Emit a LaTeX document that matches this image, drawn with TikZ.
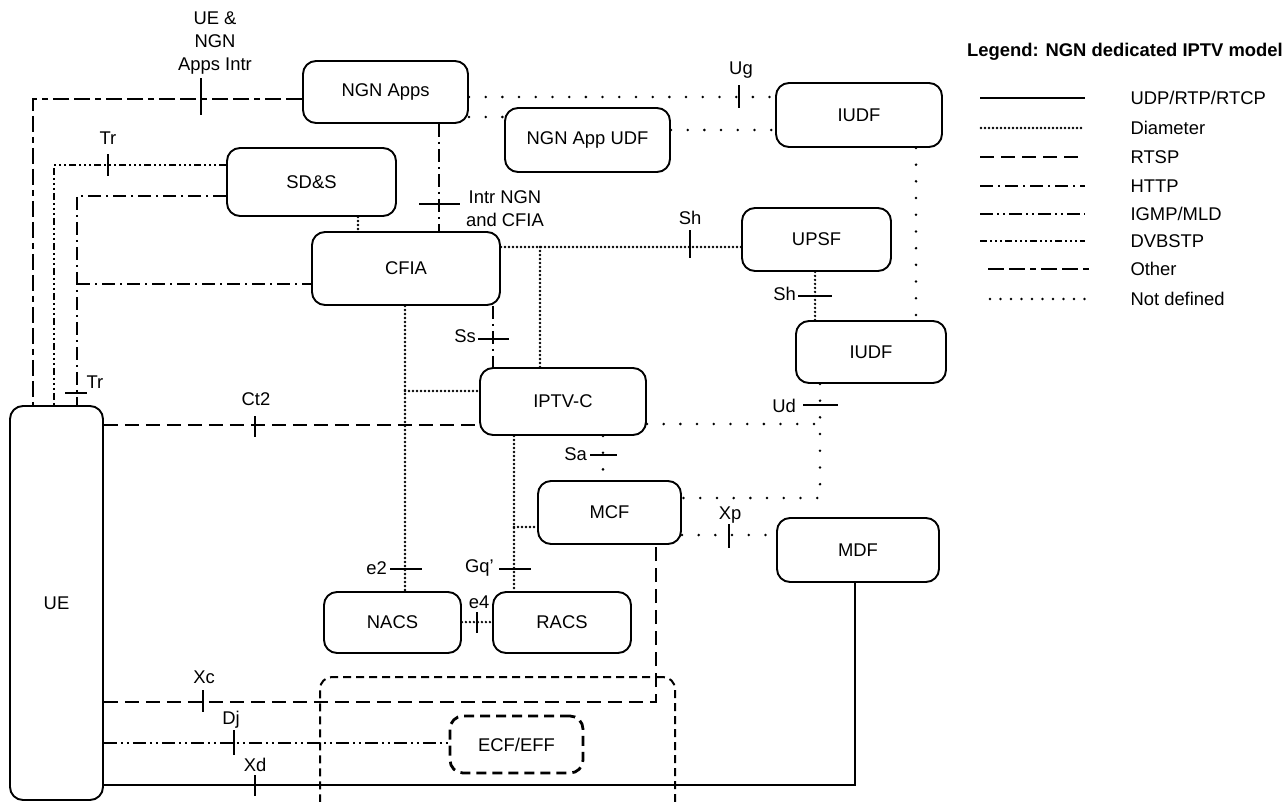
\documentclass[tikz,border=0pt]{standalone}
\usepackage{fontspec}
\setmainfont{Liberation Sans}
\tikzset{
  blk/.style={draw, rounded corners=13pt, line width=1.9pt, align=center},
  udp/.style={line width=1.9pt},
  diam/.style={line width=2.6pt, line cap=round, dash pattern=on 0pt off 4pt},
  rtsp/.style={line width=2.8pt, dash pattern=on 14pt off 7pt},
  http/.style={line width=2.8pt, dash pattern=on 13pt off 5pt on 2pt off 5pt},
  igmp/.style={line width=2.8pt, dash pattern=on 13pt off 4pt on 2pt off 4pt on 2pt off 4pt},
  dvb/.style={line width=2.8pt, dash pattern=on 7pt off 3pt on 2pt off 3pt on 2pt off 3pt on 2pt off 3pt},
  other/.style={line width=2.8pt, dash pattern=on 16pt off 5pt on 16pt off 5pt on 6pt off 5pt},
  undef/.style={line width=2.8pt, line cap=round, dash pattern=on 0pt off 16.7pt},
  tick/.style={line width=1.9pt}
}
\begin{document}
\begin{tikzpicture}[x=1pt, y=-1pt, font=\fontsize{18.4}{23}\selectfont]
  \useasboundingbox (0,0) rectangle (1285,801);
  % functional blocks
  \node [blk, minimum width=165, minimum height=62] (ngnapps) at (385.5,92) {NGN Apps};
  \node [blk, minimum width=169, minimum height=68] (sds) at (311.5,182) {SD\&S};
  \node [blk, minimum width=188, minimum height=73] (cfia) at (406,268.5) {CFIA};
  \node [blk, minimum width=165, minimum height=64] (appudf) at (587.5,140) {NGN App UDF};
  \node [blk, minimum width=166, minimum height=64] (iudfa) at (859,115) {IUDF};
  \node [blk, minimum width=149, minimum height=63] (upsf) at (816.5,239.5) {UPSF};
  \node [blk, minimum width=150, minimum height=62] (iudfb) at (871,352) {IUDF};
  \node [blk, minimum width=166, minimum height=67] (iptvc) at (563,401.5) {IPTV-C};
  \node [blk, minimum width=143, minimum height=63] (mcf) at (609.5,512.5) {MCF};
  \node [blk, minimum width=162, minimum height=64] (mdf) at (858,550) {MDF};
  \node [blk, minimum width=137, minimum height=61] (nacs) at (392.5,622.5) {NACS};
  \node [blk, minimum width=138, minimum height=61] (racs) at (562,622.5) {RACS};
  \node [blk, minimum width=93, minimum height=394] (ue) at (56.5,603) {UE};
  \node [draw, rounded corners=12pt, line width=2pt, dash pattern=on 8pt off 5pt,
         minimum width=355, minimum height=170] (ext) at (497.5,762) {};
  \node [blk, line width=2.8pt, dash pattern=on 10pt off 6pt, minimum width=133, minimum height=57] (ecf) at (516.5,744.5) {ECF/EFF};
  % interfaces towards UE
  \draw [other] (ngnapps.west |- 0,99) -- (33,99) -- (33,0 |- ue.north);
  \draw [dvb] (sds.west |- 0,165) -- (54,165) -- (54,0 |- ue.north);
  \draw [http] (sds.west |- 0,196) -- (77,196) -- (77,0 |- ue.north);
  \draw [http] (77,284) -- (cfia.west |- 0,284);
  \draw [rtsp] (ue.east |- 0,425) -- (iptvc.west |- 0,425);
  \draw [rtsp] (ue.east |- 0,702) -- (656,702) -- (656,0 |- mcf.south);
  \draw [igmp] (ue.east |- 0,743) -- (ecf.west |- 0,743);
  \draw [udp] (ue.east |- 0,785) -- (855,785) -- (855,0 |- mdf.south);
  % network side
  \draw [http] (439,0 |- ngnapps.south) -- (439,0 |- cfia.north);
  \draw [diam] (358,0 |- sds.south) -- (358,0 |- cfia.north);
  \draw [undef] (ngnapps.east |- 0,97) -- (iudfa.west |- 0,97);
  \draw [undef] (ngnapps.east |- 0,117) -- (appudf.west |- 0,117);
  \draw [undef] (appudf.east |- 0,130) -- (iudfa.west |- 0,130);
  \draw [undef] (916,0 |- iudfa.south) -- (916,0 |- iudfb.north);
  \draw [diam] (cfia.east |- 0,247) -- (upsf.west |- 0,247);
  \draw [diam] (540,247) -- (540,0 |- iptvc.north);
  \draw [diam] (815,0 |- upsf.south) -- (815,0 |- iudfb.north);
  \draw [http] (493,0 |- cfia.south) -- (493,0 |- iptvc.north);
  \draw [diam] (405,0 |- cfia.south) -- (405,0 |- nacs.north);
  \draw [diam] (405,391) -- (iptvc.west |- 0,391);
  \draw [undef] (iptvc.east |- 0,424) -- (820,424);
  \draw [undef] (820,0 |- iudfb.south) -- (820,498) -- (mcf.east |- 0,498);
  \draw [undef] (603,0 |- iptvc.south) -- (603,0 |- mcf.north);
  \draw [diam] (514,0 |- iptvc.south) -- (514,0 |- racs.north);
  \draw [diam] (514,527) -- (mcf.west |- 0,527);
  \draw [undef] (mcf.east |- 0,535) -- (mdf.west |- 0,535);
  \draw [diam] (nacs.east |- 0,622) -- (racs.west |- 0,622);
  % reference points
  \draw [tick] (201,78) -- (201,115);
  \draw [tick] (108,154) -- (108,176);
  \draw [tick] (65,393) -- (87,393);
  \draw [tick] (419,204) -- (460,204);
  \draw [tick] (739,85) -- (739,108);
  \draw [tick] (690,230) -- (690,258);
  \draw [tick] (798,296) -- (832,296);
  \draw [tick] (478,339) -- (509,339);
  \draw [tick] (803,405) -- (838,405);
  \draw [tick] (255,416) -- (255,437);
  \draw [tick] (590,455) -- (617,455);
  \draw [tick] (729,524) -- (729,548);
  \draw [tick] (390,569) -- (422,569);
  \draw [tick] (499,569) -- (531,569);
  \draw [tick] (477,612) -- (477,633);
  \draw [tick] (203,690) -- (203,712);
  \draw [tick] (234,730) -- (234,755);
  \draw [tick] (255,775) -- (255,796);
  \node [align=center] (lintr) at (215,43) {UE \&\\NGN\\Apps Intr};
  \node (ltra) at (108,138) {Tr};
  \node (ltrb) at (95,382) {Tr};
  \node (lct) at (256,399) {Ct2};
  \node [align=center] (lcfia) at (505,209) {Intr NGN\\and CFIA};
  \node (lug) at (741,70) {Ug};
  \node (lsha) at (690,218) {Sh};
  \node [anchor=east, inner sep=1pt] (lshb) at (797,294) {Sh};
  \node [anchor=east, inner sep=1pt] (lss) at (477,336) {Ss};
  \node [anchor=east, inner sep=1pt] (lud) at (797,406) {Ud};
  \node [anchor=east, inner sep=1pt] (lsa) at (588,454) {Sa};
  \node (lxp) at (730,515) {Xp};
  \node [anchor=east, inner sep=1pt] (le2) at (388,568) {e2};
  \node [anchor=east, inner sep=1pt] (lgq) at (495,568) {Gq’};
  \node (le4) at (479,602) {e4};
  \node (lxc) at (204,677) {Xc};
  \node (ldj) at (231,720) {Dj};
  \node (lxd) at (255,765) {Xd};
  % legend
  \node [font=\fontsize{18.4}{23}\selectfont\bfseries] (legtitle) at (1125,52) {Legend: NGN dedicated IPTV model};
  \node [anchor=west] (leg1) at (1127,98) {UDP/RTP/RTCP};
  \node [anchor=west] (leg2) at (1127,128) {Diameter};
  \node [anchor=west] (leg3) at (1127,157) {RTSP};
  \node [anchor=west] (leg4) at (1127,186) {HTTP};
  \node [anchor=west] (leg5) at (1127,214) {IGMP/MLD};
  \node [anchor=west] (leg6) at (1127,241) {DVBSTP};
  \node [anchor=west] (leg7) at (1127,269) {Other};
  \node [anchor=west] (leg8) at (1127,299) {Not defined};
  \draw [udp] (980,98) -- (1085,98);
  \draw [diam] (981,128) -- (1084,128);
  \draw [rtsp] (980,157) -- (1085,157);
  \draw [http] (980,186) -- (1085,186);
  \draw [igmp] (980,214) -- (1085,214);
  \draw [dvb] (980,241) -- (1085,241);
  \draw [other] (988,269) -- (1090,269);
  \draw [undef, dash pattern=on 0pt off 10.5pt] (990,299) -- (1085,299);
\end{tikzpicture}
\end{document}
